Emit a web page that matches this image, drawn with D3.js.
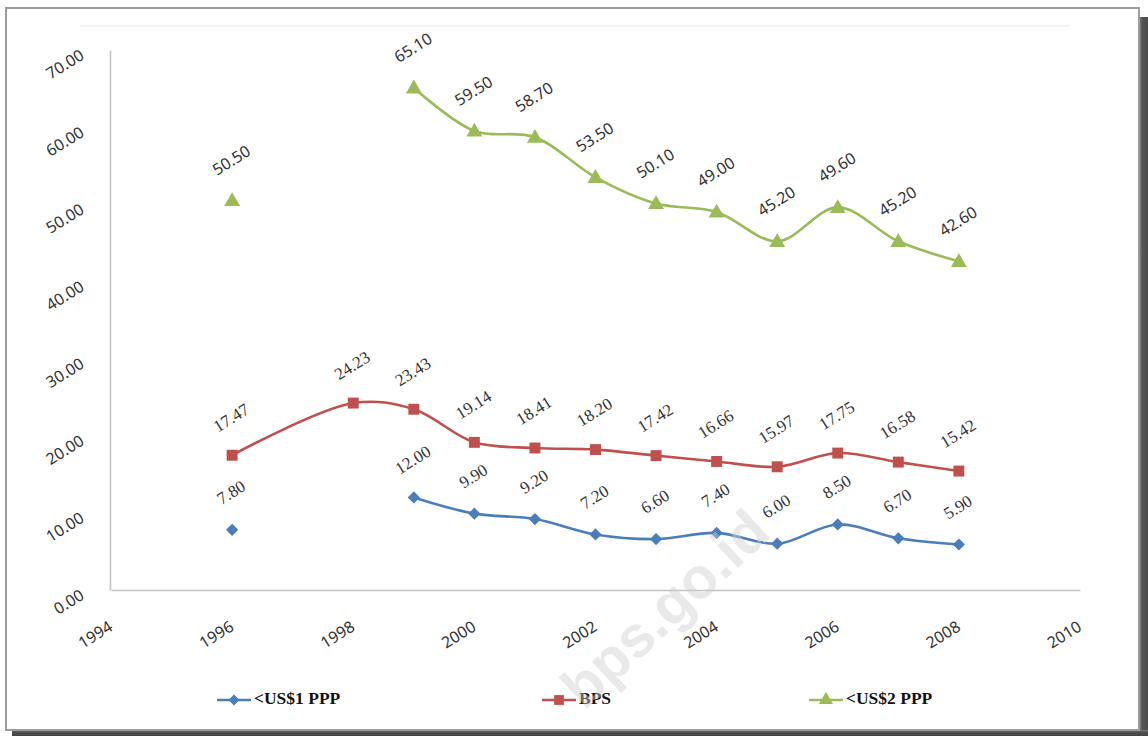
<!DOCTYPE html>
<html>
<head>
<meta charset="utf-8">
<script src="https://cdn.jsdelivr.net/npm/d3@7/dist/d3.min.js"></script>
<style>
  html, body { margin: 0; padding: 0; background: #ffffff; }
  svg { display: block; }
</style>
</head>
<body>
<svg id="chart" width="1148" height="736"></svg>
<script>
// ---- data ----
const years = [1996, 1998, 1999, 2000, 2001, 2002, 2003, 2004, 2005, 2006, 2007, 2008];
const us1ppp = [7.80, null, 12.00, 9.90, 9.20, 7.20, 6.60, 7.40, 6.00, 8.50, 6.70, 5.90];
const bps    = [17.47, 24.23, 23.43, 19.14, 18.41, 18.20, 17.42, 16.66, 15.97, 17.75, 16.58, 15.42];
const us2ppp = [50.50, null, 65.10, 59.50, 58.70, 53.50, 50.10, 49.00, 45.20, 49.60, 45.20, 42.60];
const seriesNames = ["<US$1 PPP", "BPS", "<US$2 PPP"];
const xTicks = [1994, 1996, 1998, 2000, 2002, 2004, 2006, 2008, 2010];
const yTicks = [0, 10, 20, 30, 40, 50, 60, 70];

const svg = d3.select("#chart");
const W = 1148, H = 736;

// ---- frame with shadow ----
const defs = svg.append("defs");
const gR = defs.append("linearGradient").attr("id", "shR").attr("x1", 0).attr("x2", 1).attr("y1", 0).attr("y2", 0);
gR.append("stop").attr("offset", "0%").attr("stop-color", "#8a8a8a");
gR.append("stop").attr("offset", "35%").attr("stop-color", "#555");
gR.append("stop").attr("offset", "100%").attr("stop-color", "#4a4a4a");
const gB = defs.append("linearGradient").attr("id", "shB").attr("x1", 0).attr("x2", 0).attr("y1", 0).attr("y2", 1);
gB.append("stop").attr("offset", "0%").attr("stop-color", "#7a7a7a");
gB.append("stop").attr("offset", "40%").attr("stop-color", "#4d4d4d");
gB.append("stop").attr("offset", "100%").attr("stop-color", "#454545");

svg.append("rect").attr("x", 1139).attr("y", 17).attr("width", 9).attr("height", H - 17).attr("fill", "url(#shR)");
svg.append("rect").attr("x", 12).attr("y", 730).attr("width", W - 12).attr("height", 6).attr("fill", "url(#shB)");
svg.append("rect").attr("x", 6).attr("y", 8).attr("width", 1133).attr("height", 722)
  .attr("fill", "#ffffff").attr("stroke", "#9c9c9c").attr("stroke-width", 2);

// faint plot-area top line
svg.append("line").attr("x1", 80).attr("x2", 1070).attr("y1", 26).attr("y2", 26)
  .attr("stroke", "#f1f1f1").attr("stroke-width", 1.5);

// ---- scales ----
const x = d3.scaleLinear().domain([1994, 2010]).range([111, 1080]);
const y = d3.scaleLinear().domain([0, 70]).range([590, 50]);

// ---- axes ----
const axisColor = "#c4c4c4";
const ANG = -32;
const xAxis = d3.axisBottom(x).tickValues(xTicks).tickSize(0).tickFormat(d3.format("d"));
const gx = svg.append("g").attr("transform", `translate(0,${y(0)})`).call(xAxis);
gx.select(".domain").attr("stroke", axisColor).attr("stroke-width", 1.6);
gx.selectAll(".tick text")
  .attr("font-family", "'Noto Sans', 'DejaVu Sans', sans-serif")
  .attr("font-size", 16).attr("fill", "#333")
  .attr("text-anchor", "end").attr("dominant-baseline", "middle")
  .attr("y", 0).attr("dy", 0)
  .attr("transform", `translate(0,36) rotate(${ANG})`);

const yAxis = d3.axisLeft(y).tickValues(yTicks).tickSize(0).tickFormat(d3.format(".2f"));
const gy = svg.append("g").attr("transform", `translate(${x(1994) - 1},0)`).call(yAxis);
gy.select(".domain").attr("stroke", axisColor).attr("stroke-width", 1.6);
gy.selectAll(".tick text")
  .attr("font-family", "'Noto Sans', 'DejaVu Sans', sans-serif")
  .attr("font-size", 16).attr("fill", "#333")
  .attr("text-anchor", "end").attr("dominant-baseline", "middle")
  .attr("x", 0).attr("dy", 0)
  .attr("transform", `translate(-27,4) rotate(${ANG})`);

// ---- series ----
const series = [
  { name: seriesNames[0], values: us1ppp, color: "#4a7ebb", marker: d3.symbolDiamond2, msize: 95, font: "'Liberation Serif', 'Times New Roman', serif" },
  { name: seriesNames[1], values: bps,    color: "#c0504d", marker: d3.symbolSquare,   msize: 120, font: "'Liberation Serif', 'Times New Roman', serif" },
  { name: seriesNames[2], values: us2ppp, color: "#9bbb59", marker: d3.symbolTriangle, msize: 110, font: "'Noto Sans', 'DejaVu Sans', sans-serif" }
];

const line = d3.line()
  .defined(d => d.v !== null)
  .x(d => x(d.year))
  .y(d => y(d.v))
  .curve(d3.curveCatmullRom.alpha(0.5));

series.forEach(s => {
  const pts = years.map((yr, i) => ({ year: yr, v: s.values[i] }));
  const g = svg.append("g");
  g.append("path").datum(pts)
    .attr("d", line)
    .attr("fill", "none").attr("stroke", s.color).attr("stroke-width", 2.6)
    .attr("stroke-linejoin", "round").attr("stroke-linecap", "round");
  const valid = pts.filter(d => d.v !== null);
  const tri = s.marker === d3.symbolTriangle;
  g.selectAll("path.m").data(valid).enter().append("path")
    .attr("class", "m")
    .attr("d", d3.symbol().type(s.marker).size(s.msize))
    .attr("transform", d => `translate(${x(d.year)},${y(d.v) + (tri ? 1 : 0)})`)
    .attr("fill", s.color);
  g.selectAll("text.lbl").data(valid).enter().append("text")
    .attr("class", "lbl")
    .attr("transform", d => `translate(${x(d.year)},${y(d.v) - (tri ? 39 : 36)}) rotate(${ANG})`)
    .attr("text-anchor", "middle").attr("dominant-baseline", "middle")
    .attr("font-family", s.font).attr("font-size", tri ? 16 : 17)
    .attr("fill", "#333")
    .text(d => d3.format(".2f")(d.v));
});

// ---- legend ----
const legendPos = [217, 542, 809];
const legendY = 700;
series.forEach((s, i) => {
  const lx = legendPos[i];
  const g = svg.append("g");
  g.append("line").attr("x1", lx).attr("x2", lx + 34).attr("y1", legendY).attr("y2", legendY)
    .attr("stroke", s.color).attr("stroke-width", 2.6);
  g.append("path").attr("d", d3.symbol().type(s.marker).size(s.msize * 0.8))
    .attr("transform", `translate(${lx + 17},${legendY})`).attr("fill", s.color);
  g.append("text").attr("x", lx + 37).attr("y", legendY).attr("dominant-baseline", "middle")
    .attr("font-family", "'Liberation Serif', 'Times New Roman', serif")
    .attr("font-weight", "bold").attr("font-size", 17.5).attr("fill", "#111")
    .text(s.name);
});

// ---- watermark ----
svg.append("text")
  .attr("transform", "translate(668,612) rotate(-43)")
  .attr("text-anchor", "middle").attr("dominant-baseline", "middle")
  .attr("font-family", "'Liberation Sans', Arial, sans-serif")
  .attr("font-weight", "bold").attr("font-size", 58)
  .attr("fill", "#cfcfcf").attr("fill-opacity", 0.45)
  .text("bps.go.id");
</script>
</body>
</html>
